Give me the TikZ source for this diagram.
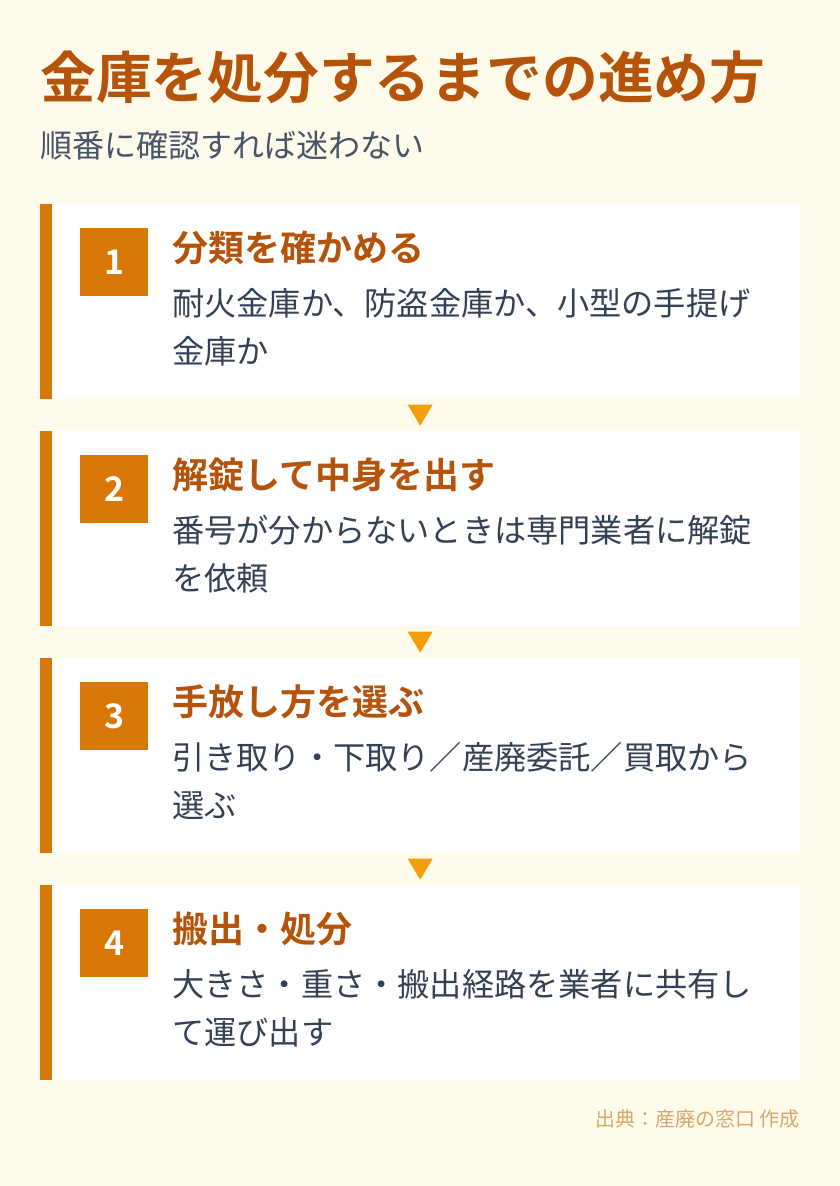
\documentclass[tikz,border=0pt]{standalone}
\usepackage{fontspec}
\setmainfont{Noto Sans CJK JP}[BoldFont={Noto Sans CJK JP Bold}]
\usetikzlibrary{calc,positioning}
\definecolor{bgcream}{HTML}{FFFBEB}
\definecolor{stepbar}{HTML}{D97706}
\definecolor{headcol}{HTML}{B45309}
\definecolor{bodycol}{HTML}{334155}
\definecolor{subcol}{HTML}{475569}
\definecolor{tricol}{HTML}{F59E0B}
\definecolor{notecol}{HTML}{D6A86C}
\tikzstyle{card} = [rectangle, fill=white, minimum width=760pt, minimum height=195pt,
    anchor=north west, inner sep=0pt]
\tikzstyle{bar} = [rectangle, fill=stepbar, minimum width=12pt, minimum height=195pt,
    anchor=north west, inner sep=0pt]
\tikzstyle{numbox} = [rectangle, fill=stepbar, text=white, minimum size=68pt,
    anchor=north west, inner sep=0pt, font=\bfseries\fontsize{34}{34}\selectfont]
\tikzstyle{head} = [anchor=base west, inner sep=0pt, text=headcol,
    font=\bfseries\fontsize{36}{40}\selectfont]
\tikzstyle{body} = [anchor=base west, inner sep=0pt, text=bodycol, align=left,
    font=\fontsize{32.2}{48}\selectfont]
\tikzstyle{downtri} = [fill=tricol]

\begin{document}
\begin{tikzpicture}[x=1pt,y=-1pt]

  \fill[bgcream] (0,0) rectangle (840,1186);
  \useasboundingbox (0,0) rectangle (840,1186);

  \node[anchor=base west, inner sep=0pt, text=headcol,
        font=\bfseries\fontsize{55.8}{60}\selectfont] (title) at (40,98)
        {金庫を処分するまでの進め方};
  \node[anchor=base west, inner sep=0pt, text=subcol,
        font=\fontsize{32}{36}\selectfont] (subtitle) at (40,157)
        {順番に確認すれば迷わない};

  % steps (body anchor is the baseline of its last line)
  \foreach \i/\top/\head/\body in {
      1/204/{分類を確かめる}/{耐火金庫か、防盗金庫か、小型の手提げ\\金庫か},
      2/431/{解錠して中身を出す}/{番号が分からないときは専門業者に解錠\\を依頼},
      3/658/{手放し方を選ぶ}/{引き取り・下取り／産廃委託／買取から\\選ぶ},
      4/885/{搬出・処分}/{大きさ・重さ・搬出経路を業者に共有し\\て運び出す}} {
    \node[card]   (card\i) at (40,\top) {};
    \node[bar]    (bar\i)  at (40,\top) {};
    \node[numbox] (num\i)  at (80,\top+24) {\i};
    \node[head]   (head\i) at (172,\top+57) {\head};
    \node[body]   (body\i) at (172,\top+159) {\body};
  }

  % arrows between steps
  \foreach \i [evaluate=\i as \j using int(\i+1)] in {1,2,3} {
    \coordinate (gap\i) at ($(card\i.south)!0.5!(card\j.north)$);
    \fill[downtri] ($(gap\i)+(-12.5,-10.5)$) -- ($(gap\i)+(12.5,-10.5)$)
      -- ($(gap\i)+(0,10.5)$) -- cycle;
  }

  \node[anchor=base east, inner sep=0pt, text=notecol,
        font=\fontsize{20}{22}\selectfont] (source) at (800,1126)
        {出典：産廃の窓口 作成};
\end{tikzpicture}
\end{document}
